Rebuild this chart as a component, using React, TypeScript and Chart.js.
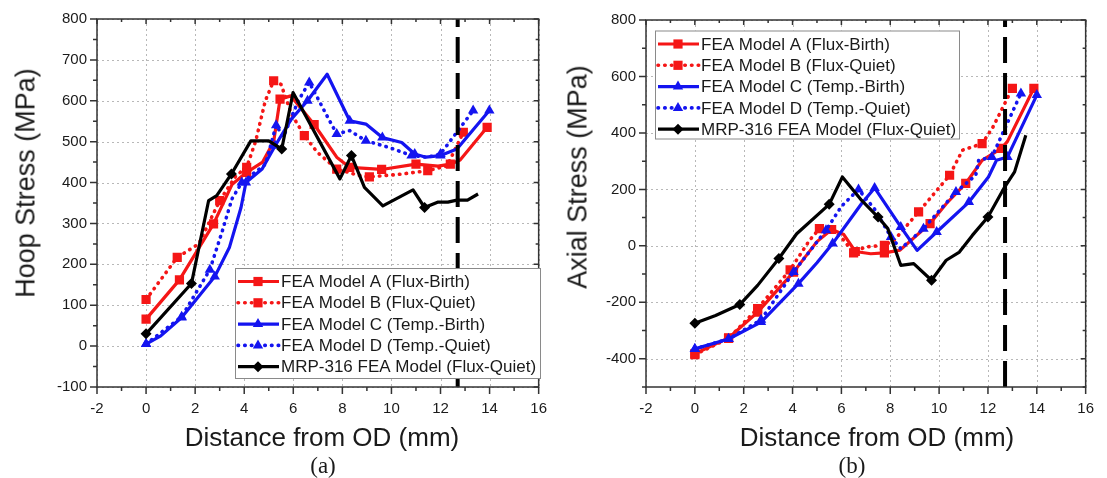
import React, { useEffect, useRef } from "react";
import { Chart, registerables } from "chart.js";

Chart.register(...registerables);

// ---------------- (a) Hoop stress data ----------------
const HOOP_A_X = [0, 1.36, 2.75, 3.5, 4.1, 4.75, 5.2, 5.46, 5.9, 6.85, 7.77, 8.3, 9.6, 11.0, 11.9, 12.4, 12.8, 13.9];
const HOOP_A_Y = [66, 162, 299, 395, 425, 450, 500, 604, 612, 542, 462, 437, 432, 445, 440, 445, 455, 535];
const HOOP_B_X = [0, 1.27, 2.15, 3.0, 3.67, 4.1, 4.47, 4.86, 5.2, 5.5, 5.92, 6.45, 6.98, 7.77, 8.7, 9.1, 10.3, 11.48, 12.27, 12.93];
const HOOP_B_Y = [114, 217, 250, 356, 417, 437, 502, 600, 649, 640, 568, 515, 474, 433, 417, 414, 420, 429, 441, 523];
const HOOP_C_X = [0, 0.6, 1.45, 2.8, 3.4, 3.87, 4.07, 4.73, 5.26, 5.92, 6.58, 7.38, 8.3, 8.96, 9.63, 10.42, 10.95, 11.4, 12.0, 12.67, 13.99];
const HOOP_C_Y = [5, 25, 70, 170, 242, 339, 400, 433, 490, 555, 600, 665, 551, 543, 510, 498, 470, 462, 466, 482, 576];
const HOOP_D_X = [0, 1.45, 2.6, 3.1, 3.5, 3.9, 4.87, 5.3, 5.6, 6.2, 6.65, 6.98, 7.4, 7.77, 8.3, 8.96, 9.9, 10.82, 11.48, 12.0, 13.33];
const HOOP_D_Y = [5, 72, 187, 280, 360, 400, 445, 540, 512, 600, 645, 608, 560, 519, 527, 502, 486, 466, 462, 470, 576];
const HOOP_MRP_X = [0, 1.85, 2.55, 2.88, 3.48, 4.27, 5.0, 5.53, 5.99, 7.9, 8.37, 8.9, 9.65, 10.88, 11.35, 11.88, 12.3, 12.67, 13.1, 13.53];
const HOOP_MRP_Y = [30, 153, 356, 368, 421, 502, 502, 482, 620, 409, 466, 388, 343, 382, 339, 352, 352, 357, 357, 372];

// ---------------- (b) Axial stress data ----------------
const AXIAL_A_X = [0, 1.38, 2.57, 4.04, 5.0, 5.6, 6.1, 6.57, 7.2, 7.76, 8.4, 9.63, 10.3, 11.09, 11.76, 12.55, 12.8, 13.88];
const AXIAL_A_Y = [-382, -326, -235, -93, 15, 58, 40, -20, -28, -25, -15, 79, 150, 221, 303, 345, 370, 558];
const AXIAL_B_X = [0, 1.38, 2.57, 3.9, 4.7, 5.1, 5.6, 6.0, 6.5, 6.97, 7.76, 8.16, 9.16, 10.43, 10.96, 11.76, 12.2, 13.0];
const AXIAL_B_Y = [-385, -328, -222, -85, 20, 61, 58, 30, -25, -4, 2, 20, 120, 250, 339, 362, 420, 558];
const AXIAL_C_X = [0, 1.38, 2.71, 4.24, 5.0, 5.64, 6.83, 7.36, 8.43, 9.1, 9.9, 11.22, 12.02, 12.35, 12.8, 14.0];
const AXIAL_C_Y = [-365, -330, -270, -134, -60, 8, 150, 205, 67, -16, 49, 155, 244, 303, 315, 534];
const AXIAL_D_X = [0, 1.38, 2.71, 4.04, 5.37, 6.0, 6.7, 7.36, 8.03, 8.43, 9.36, 10.69, 11.5, 11.62, 12.16, 13.35];
const AXIAL_D_Y = [-365, -330, -262, -93, 55, 140, 200, 130, 31, -10, 61, 191, 250, 303, 315, 540];
const AXIAL_MRP_X = [0, 0.85, 1.84, 2.57, 3.44, 4.17, 5.5, 6.04, 6.83, 7.5, 7.9, 8.43, 8.96, 9.69, 10.29, 10.83, 11.36, 12.0, 12.69, 13.09, 13.55];
const AXIAL_MRP_Y = [-274, -247, -208, -140, -45, 43, 147, 244, 161, 102, 61, -69, -63, -122, -51, -22, 37, 102, 209, 262, 392];

// ---------------- ticks / labels ----------------
const X_TICKS = [-2, 0, 2, 4, 6, 8, 10, 12, 14, 16];
const HOOP_Y_TICKS = [-100, 0, 100, 200, 300, 400, 500, 600, 700, 800];
const AXIAL_Y_TICKS = [-400, -200, 0, 200, 400, 600, 800];
const LEGEND_LABELS = [
  "FEA Model A (Flux-Birth)",
  "FEA Model B (Flux-Quiet)",
  "FEA Model C (Temp.-Birth)",
  "FEA Model D (Temp.-Quiet)",
  "MRP-316 FEA Model (Flux-Quiet)",
];
const DASHED_LINE_X = 12.7;
const X_TITLE = "Distance from OD (mm)";
const HOOP_TITLE = "Hoop Stress (MPa)";
const AXIAL_TITLE = "Axial Stress (MPa)";

// ---------------- styles ----------------
const RED = "#f51616";
const BLUE = "#1414f0";
const BLACK = "#000000";
const DOT = [0.5, 6.2];
const FONT = "'Liberation Sans', Arial, sans-serif";

type Style = { color: string; dash: number[]; marker: string; r: number; order: number };
const STYLES: Style[] = [
  { color: RED, dash: [], marker: "rect", r: 6.5, order: 5 },
  { color: RED, dash: DOT, marker: "rect", r: 6.5, order: 4 },
  { color: BLUE, dash: [], marker: "triangle", r: 6, order: 3 },
  { color: BLUE, dash: DOT, marker: "triangle", r: 6, order: 2 },
  { color: BLACK, dash: [], marker: "rectRot", r: 5.5, order: 1 },
];

const HOOP_MARKS = [
  [0, 1, 2, 4, 7, 9, 11, 12, 13, 15, 17],
  [0, 1, 3, 5, 8, 11, 13, 15, 17, 19],
  [0, 2, 3, 6, 8, 10, 12, 14, 16, 18, 20],
  [0, 1, 2, 5, 7, 10, 13, 15, 17, 19, 20],
  [0, 1, 4, 7, 10, 14],
];
const AXIAL_MARKS = [
  [0, 1, 2, 3, 5, 7, 9, 11, 13, 15, 17],
  [0, 1, 2, 3, 5, 8, 10, 12, 13, 15, 17],
  [0, 1, 2, 3, 5, 7, 8, 10, 11, 14, 15],
  [0, 1, 2, 3, 4, 6, 8, 10, 11, 14, 15],
  [0, 2, 4, 6, 9, 13, 17],
];

function drawMarker(ctx: CanvasRenderingContext2D, kind: string, x: number, y: number, r: number) {
  ctx.beginPath();
  if (kind === "rect") {
    const s = Math.SQRT1_2 * r;
    ctx.rect(x - s, y - s, 2 * s, 2 * s);
  } else if (kind === "triangle") {
    const a = (2 * Math.PI) / 3;
    ctx.moveTo(x, y - r);
    ctx.lineTo(x + Math.sin(a) * r, y - Math.cos(a) * r);
    ctx.lineTo(x - Math.sin(a) * r, y - Math.cos(a) * r);
    ctx.closePath();
  } else {
    ctx.moveTo(x - r, y);
    ctx.lineTo(x, y - r);
    ctx.lineTo(x + r, y);
    ctx.lineTo(x, y + r);
    ctx.closePath();
  }
  ctx.fill();
}

type PanelCfg = {
  series: { x: number[]; y: number[] }[];
  marks: number[][];
  yMin: number;
  yMax: number;
  yTicks: number[];
  yMinor: number;
  yMajor: number;
  yAxisWidth: number;
  padTop: number;
  legend: { x: number; y: number; w: number; h: number };
};

function makeFramePlugin(cfg: PanelCfg) {
  return {
    id: "frame",
    beforeDatasetsDraw(chart: any) {
      const { ctx, chartArea: a, scales } = chart;
      const xs = scales.x;
      const ys = scales.y;
      ctx.save();
      ctx.strokeStyle = "#b8b8b8";
      ctx.lineWidth = 1;
      ctx.setLineDash([2, 3]);
      ctx.beginPath();
      for (const v of X_TICKS) {
        const p = Math.round(xs.getPixelForValue(v)) + 0.5;
        ctx.moveTo(p, a.top);
        ctx.lineTo(p, a.bottom);
      }
      for (const v of cfg.yTicks) {
        const p = Math.round(ys.getPixelForValue(v)) + 0.5;
        ctx.moveTo(a.left, p);
        ctx.lineTo(a.right, p);
      }
      ctx.stroke();
      ctx.restore();
    },
    afterDatasetsDraw(chart: any) {
      const { ctx, chartArea: a, scales } = chart;
      const xs = scales.x;
      const ys = scales.y;
      ctx.save();
      ctx.setLineDash([]);
      ctx.strokeStyle = "#333";
      ctx.lineWidth = 1.5;
      ctx.strokeRect(a.left, a.top, a.right - a.left, a.bottom - a.top);
      ctx.beginPath();
      for (let v = -2; v <= 16; v += 1) {
        const major = v % 2 === 0;
        const p = xs.getPixelForValue(v);
        ctx.moveTo(p, a.bottom);
        ctx.lineTo(p, a.bottom + (major ? 7 : 4));
        ctx.moveTo(p, a.top);
        ctx.lineTo(p, a.top + (major ? 5 : 3));
      }
      for (let v = cfg.yMin; v <= cfg.yMax; v += cfg.yMinor) {
        const major = v % cfg.yMajor === 0;
        const p = ys.getPixelForValue(v);
        ctx.moveTo(a.left, p);
        ctx.lineTo(a.left - (major ? 7 : 4), p);
        ctx.moveTo(a.right, p);
        ctx.lineTo(a.right - (major ? 5 : 3), p);
      }
      ctx.stroke();

      // legend
      const L = cfg.legend;
      ctx.fillStyle = "#ffffff";
      ctx.fillRect(L.x, L.y, L.w, L.h);
      ctx.strokeStyle = "#8a8a8a";
      ctx.lineWidth = 1;
      ctx.strokeRect(L.x + 0.5, L.y + 0.5, L.w, L.h);
      ctx.font = `17px ${FONT}`;
      ctx.textBaseline = "middle";
      ctx.textAlign = "left";
      STYLES.forEach((s, i) => {
        const yy = L.y + 13.5 + i * 21.3;
        ctx.strokeStyle = s.color;
        ctx.lineWidth = s.dash.length ? 3.6 : 3.2;
        ctx.lineCap = s.dash.length ? "round" : "butt";
        ctx.setLineDash(s.dash);
        ctx.beginPath();
        ctx.moveTo(L.x + 3, yy);
        ctx.lineTo(L.x + 44, yy);
        ctx.stroke();
        ctx.setLineDash([]);
        ctx.fillStyle = s.color;
        drawMarker(ctx, s.marker, L.x + 23, yy, s.r);
        ctx.fillStyle = "#1a1a1a";
        ctx.fillText(LEGEND_LABELS[i], L.x + 46, yy + 1);
      });
      ctx.restore();
    },
  };
}

function buildChart(canvas: HTMLCanvasElement, cfg: PanelCfg) {
  const datasets: any[] = cfg.series.map((s, i) => {
    const st = STYLES[i];
    const marks = cfg.marks[i];
    return {
      label: LEGEND_LABELS[i],
      data: s.x.map((x, j) => ({ x, y: s.y[j] })),
      borderColor: st.color,
      backgroundColor: st.color,
      borderWidth: st.dash.length ? 3.6 : 3.2,
      borderDash: st.dash,
      borderCapStyle: st.dash.length ? "round" : "butt",
      borderJoinStyle: "round",
      pointStyle: st.marker,
      pointRadius: (c: any) => (marks.includes(c.dataIndex) ? st.r : 0),
      pointBackgroundColor: st.color,
      pointBorderColor: st.color,
      pointBorderWidth: 0,
      tension: 0,
      order: st.order,
    };
  });
  datasets.push({
    label: "dashed",
    data: [
      { x: DASHED_LINE_X, y: cfg.yMin },
      { x: DASHED_LINE_X, y: cfg.yMax },
    ],
    borderColor: "#000",
    borderWidth: 4,
    borderDash: [26, 10],
    pointRadius: 0,
    order: 0,
  });

  const tickFont = { family: FONT, size: 15 };
  return new Chart(canvas, {
    type: "line",
    data: { datasets },
    options: {
      animation: false,
      responsive: false,
      events: [],
      layout: { padding: { left: 0, top: cfg.padTop, right: 10, bottom: 0 } },
      plugins: { legend: { display: false }, tooltip: { enabled: false } },
      scales: {
        x: {
          type: "linear",
          min: -2,
          max: 16,
          afterBuildTicks: (sc: any) => {
            sc.ticks = X_TICKS.map((v) => ({ value: v }));
          },
          afterFit: (sc: any) => {
            sc.height = 91;
          },
          grid: { display: false, drawTicks: false },
          border: { display: false },
          ticks: { padding: 13, color: "#1a1a1a", font: tickFont, maxRotation: 0, autoSkip: false },
        },
        y: {
          type: "linear",
          min: cfg.yMin,
          max: cfg.yMax,
          afterBuildTicks: (sc: any) => {
            sc.ticks = cfg.yTicks.map((v) => ({ value: v }));
          },
          afterFit: (sc: any) => {
            sc.width = cfg.yAxisWidth;
          },
          grid: { display: false, drawTicks: false },
          border: { display: false },
          ticks: { padding: 10, color: "#1a1a1a", font: tickFont, autoSkip: false },
        },
      },
    } as any,
    plugins: [makeFramePlugin(cfg)],
  });
}

const HOOP_CFG: PanelCfg = {
  series: [
    { x: HOOP_A_X, y: HOOP_A_Y },
    { x: HOOP_B_X, y: HOOP_B_Y },
    { x: HOOP_C_X, y: HOOP_C_Y },
    { x: HOOP_D_X, y: HOOP_D_Y },
    { x: HOOP_MRP_X, y: HOOP_MRP_Y },
  ],
  marks: HOOP_MARKS,
  yMin: -100,
  yMax: 800,
  yTicks: HOOP_Y_TICKS,
  yMinor: 50,
  yMajor: 100,
  yAxisWidth: 97,
  padTop: 18,
  legend: { x: 235, y: 268, w: 305, h: 110 },
};

const AXIAL_CFG: PanelCfg = {
  series: [
    { x: AXIAL_A_X, y: AXIAL_A_Y },
    { x: AXIAL_B_X, y: AXIAL_B_Y },
    { x: AXIAL_C_X, y: AXIAL_C_Y },
    { x: AXIAL_D_X, y: AXIAL_D_Y },
    { x: AXIAL_MRP_X, y: AXIAL_MRP_Y },
  ],
  marks: AXIAL_MARKS,
  yMin: -500,
  yMax: 800,
  yTicks: AXIAL_Y_TICKS,
  yMinor: 100,
  yMajor: 200,
  yAxisWidth: 86,
  padTop: 20,
  legend: { x: 95, y: 30.5, w: 304, h: 108 },
};

function Panel({ cfg, left, width }: { cfg: PanelCfg; left: number; width: number }) {
  const ref = useRef<HTMLCanvasElement>(null);
  useEffect(() => {
    const chart = buildChart(ref.current as HTMLCanvasElement, cfg);
    return () => chart.destroy();
  }, [cfg]);
  return (
    <canvas
      ref={ref}
      width={width}
      height={478}
      style={{ position: "absolute", left, top: 0, width, height: 478 }}
    />
  );
}

const textBase: React.CSSProperties = {
  position: "absolute",
  whiteSpace: "nowrap",
  color: "#1a1a1a",
  fontFamily: FONT,
  fontSize: 26,
  lineHeight: "1",
};

function Label({ text, cx, cy, rotate, serif, size }: { text: string; cx: number; cy: number; rotate?: boolean; serif?: boolean; size?: number }) {
  return (
    <div
      style={{
        ...textBase,
        left: cx,
        top: cy,
        fontSize: size ?? 26,
        fontFamily: serif ? "'Liberation Serif', 'Times New Roman', serif" : FONT,
        transform: `translate(-50%, -50%)${rotate ? " rotate(-90deg)" : ""}`,
      }}
    >
      {text}
    </div>
  );
}

export default function App() {
  useEffect(() => {
    document.body.style.margin = "0";
    document.body.style.background = "#ffffff";
  }, []);
  return (
    <div style={{ position: "absolute", left: 0, top: 0, width: 1107, height: 478, background: "#fff", overflow: "hidden" }}>
      <Panel cfg={HOOP_CFG} left={0} width={560} />
      <Panel cfg={AXIAL_CFG} left={560} width={547} />
      <Label text={HOOP_TITLE} cx={26} cy={183} rotate size={27} />
      <Label text={AXIAL_TITLE} cx={578} cy={177} rotate size={27} />
      <Label text={X_TITLE} cx={322} cy={437} />
      <Label text={X_TITLE} cx={877} cy={437} />
      <Label text="(a)" cx={323} cy={465} serif size={23} />
      <Label text="(b)" cx={852} cy={465} serif size={23} />
    </div>
  );
}
